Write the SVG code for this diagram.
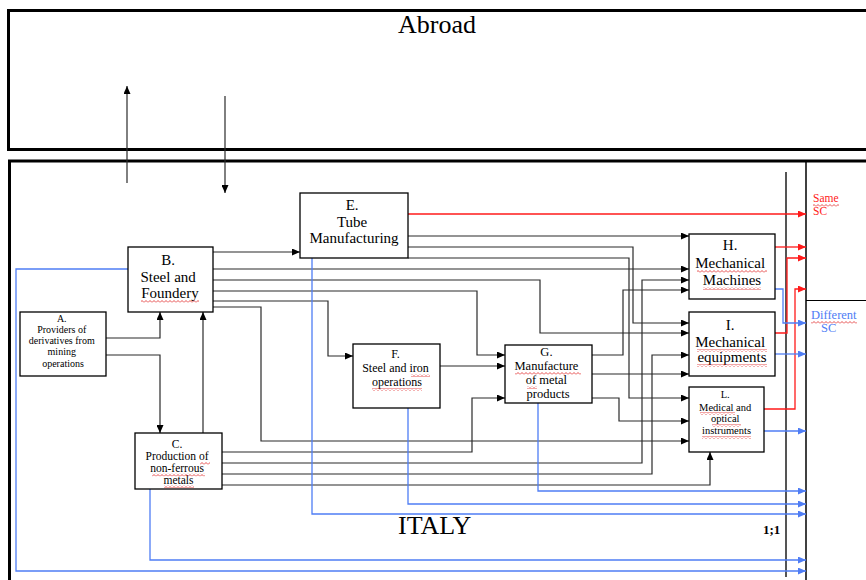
<svg xmlns="http://www.w3.org/2000/svg" width="866" height="580" viewBox="0 0 866 580">
  <style>
    .frame { fill: none; stroke: #000; stroke-width: 3; }
    .box { fill: #fff; stroke: #000; stroke-width: 1.3; }
    .lbl { font-family: "Liberation Serif", "Times New Roman", serif; text-anchor: middle; fill: #000; }
    .serif { font-family: "Liberation Serif", "Times New Roman", serif; }
    .wire { fill: none; stroke: #2a2a2a; stroke-width: 1.2; }
    .wire.arr { marker-end: url(#hk); }
    .red { fill: none; stroke: #ff1a1a; stroke-width: 1.3; marker-end: url(#hr); }
    .blue { fill: none; stroke: #4f7df5; stroke-width: 1.3; marker-end: url(#hb); }
    .sq { fill: url(#squig); }
  </style>
  <defs>
    <marker id="hk" viewBox="0 0 8 7" refX="8" refY="3.5" markerWidth="8" markerHeight="7" markerUnits="userSpaceOnUse" orient="auto">
      <path d="M0,0 L8,3.5 L0,7z" fill="#000"/>
    </marker>
    <marker id="hr" viewBox="0 0 8 7" refX="8" refY="3.5" markerWidth="8" markerHeight="7" markerUnits="userSpaceOnUse" orient="auto">
      <path d="M0,0 L8,3.5 L0,7z" fill="#ff1a1a"/>
    </marker>
    <marker id="hb" viewBox="0 0 8 7" refX="8" refY="3.5" markerWidth="8" markerHeight="7" markerUnits="userSpaceOnUse" orient="auto">
      <path d="M0,0 L8,3.5 L0,7z" fill="#4f7df5"/>
    </marker>
    <pattern id="squig" width="4" height="3" patternUnits="userSpaceOnUse">
      <path d="M0,2.5 L2,0.5 L4,2.5" fill="none" stroke="#e02020" stroke-width="0.8"/>
    </pattern>
    <clipPath id="gclip"><rect x="505" y="345" width="87" height="57"/></clipPath>
  </defs>

  <rect width="866" height="580" fill="#fff"/>

  <!-- regions -->
  <g id="abroad">
    <rect class="frame" x="8.5" y="10.5" width="870" height="139"/>
    <text class="lbl" x="437" y="33" font-size="26">Abroad</text>
  </g>
  <g id="italy">
    <rect class="frame" x="9.5" y="161" width="870" height="430"/>
    <text class="serif" x="398" y="534" font-size="26">ITALY</text>
    <text class="serif" x="763" y="534" font-size="13" font-weight="bold">1;1</text>
    <line x1="786" y1="172" x2="786" y2="577" stroke="#555" stroke-width="2"/>
    <line x1="806" y1="160" x2="806" y2="580" stroke="#000" stroke-width="1.5"/>
    <line x1="806" y1="300.5" x2="866" y2="300.5" stroke="#000" stroke-width="1.2"/>
  </g>
  <g id="same-sc">
    <text class="serif" x="813" y="202" font-size="11.5" fill="#ff1a1a">Same</text>
    <text class="serif" x="813" y="215" font-size="11.5" fill="#ff1a1a">SC</text>
    <rect class="sq" x="813" y="204" width="26" height="3"/>
  </g>
  <g id="different-sc">
    <text class="serif" x="811" y="319" font-size="12.5" fill="#4f7df5">Different</text>
    <text class="serif" x="821" y="332" font-size="12.5" fill="#4f7df5">SC</text>
    <rect class="sq" x="811" y="321" width="46" height="3"/>
  </g>

  <!-- connectors -->
  <g id="connectors">
    <path class="wire arr" d="M127,183 V86"/>
    <path class="wire arr" d="M225,96 V193"/>

    <path class="wire arr" d="M106,338 H160 V312"/>
    <path class="wire arr" d="M106,355 H160 V433"/>
    <path class="wire arr" d="M203,433 V312"/>

    <path class="wire arr" d="M213,252 H300"/>
    <path class="wire arr" d="M213,269 H689"/>
    <path class="wire arr" d="M213,280 H540 V333 H689"/>
    <path class="wire arr" d="M213,291 H477 V355 H505"/>
    <path class="wire arr" d="M213,301 H328 V356 H353"/>
    <path class="wire arr" d="M213,307 H261 V441 H689"/>

    <path class="wire arr" d="M408,236 H689"/>
    <path class="wire arr" d="M408,247 H633 V323 H689"/>
    <path class="wire arr" d="M408,258 H629 V398 H689"/>

    <path class="wire arr" d="M440,366 H505"/>

    <path class="wire arr" d="M592,355 H623 V290 H689"/>
    <path class="wire arr" d="M592,374 H689"/>
    <path class="wire arr" d="M592,398 H619 V421 H689"/>

    <path class="wire arr" d="M222,452 H472 V398 H505"/>
    <path class="wire arr" d="M222,463 H642 V280 H689"/>
    <path class="wire arr" d="M222,474 H652 V355 H689"/>
    <path class="wire arr" d="M222,485 H710 V452"/>

    <path class="red" d="M408,214 H806"/>
    <path class="red" d="M775,247 H806"/>
    <path class="red" d="M775,333 H787 V258 H806"/>
    <path class="red" d="M764,409 H795 V289 H806"/>

    <path class="blue" d="M775,289 H783 V323 H806"/>
    <path class="blue" d="M775,354 H806"/>
    <path class="blue" d="M764,431 H806"/>
    <path class="blue" d="M538,403 V491 H806"/>
    <path class="blue" d="M408,408 V504 H806"/>
    <path class="blue" d="M312,258 V514 H806"/>
    <path class="blue" d="M150,489 V560 H806"/>
    <path class="blue" d="M128,269 H16 V571 H806"/>
  </g>

  <!-- nodes -->
  <g id="node-a">
    <rect class="box" x="20" y="312" width="86" height="64"/>
    <text class="lbl" font-size="10">
      <tspan x="63" y="322">A.</tspan>
      <tspan x="63" y="333">Providers of</tspan>
      <tspan x="63" y="344">derivatives from</tspan>
      <tspan x="63" y="355">mining</tspan>
      <tspan x="63" y="367">operations</tspan>
    </text>
  </g>
  <g id="node-b">
    <rect class="box" x="128" y="247" width="85" height="65"/>
    <text class="lbl" font-size="15">
      <tspan x="170" y="265">B.</tspan>
      <tspan x="170" y="282">Steel and</tspan>
      <tspan x="170" y="298">Foundery</tspan>
    </text>
    <rect class="sq" x="141" y="300" width="58" height="3"/>
  </g>
  <g id="node-c">
    <rect class="box" x="135" y="433" width="87" height="56"/>
    <text class="lbl" font-size="11.5">
      <tspan x="178.5" y="448">C.</tspan>
      <tspan x="178.5" y="460">Production of</tspan>
      <tspan x="178.5" y="471.5">non-ferrous</tspan>
      <tspan x="178.5" y="483.5">metals</tspan>
    </text>
    <rect class="sq" x="200" y="462" width="10" height="3"/>
    <rect class="sq" x="152" y="473.5" width="53" height="3"/>
    <rect class="sq" x="164" y="485" width="30" height="3"/>
  </g>
  <g id="node-e">
    <rect class="box" x="300" y="193" width="108" height="65"/>
    <text class="lbl" font-size="15">
      <tspan x="354" y="210">E.</tspan>
      <tspan x="354" y="226.5">Tube</tspan>
      <tspan x="354" y="243">Manufacturing</tspan>
    </text>
  </g>
  <g id="node-f">
    <rect class="box" x="353" y="344" width="87" height="64"/>
    <text class="lbl" font-size="12">
      <tspan x="397" y="358">F.</tspan>
      <tspan x="397" y="372">Steel and iron</tspan>
      <tspan x="397" y="386">operations</tspan>
    </text>
    <rect class="sq" x="411" y="374" width="19" height="3"/>
    <rect class="sq" x="372" y="388" width="50" height="3"/>
  </g>
  <g id="node-g">
    <rect class="box" x="505" y="345" width="87" height="58"/>
    <text class="lbl" font-size="12.5" clip-path="url(#gclip)">
      <tspan x="548" y="356">G.</tspan>
      <tspan x="548" y="370">Manufacture</tspan>
      <tspan x="548" y="384">of metal</tspan>
      <tspan x="548" y="398">products</tspan>
    </text>
    <rect class="sq" x="515" y="372" width="66" height="3"/>
    <rect class="sq" x="527" y="386" width="10" height="3"/>
  </g>
  <g id="node-h">
    <rect class="box" x="689" y="234" width="86" height="65"/>
    <text class="lbl" font-size="15">
      <tspan x="732" y="250">H.</tspan>
      <tspan x="732" y="268">Mechanical</tspan>
      <tspan x="732" y="285">Machines</tspan>
    </text>
    <rect class="sq" x="697" y="270" width="70" height="3"/>
    <rect class="sq" x="703" y="287" width="58" height="3"/>
  </g>
  <g id="node-i">
    <rect class="box" x="689" y="312" width="86" height="64"/>
    <text class="lbl" font-size="15">
      <tspan x="732" y="330">I.</tspan>
      <tspan x="732" y="347">Mechanical</tspan>
      <tspan x="732" y="362">equipments</tspan>
    </text>
    <rect class="sq" x="697" y="349" width="70" height="3"/>
    <rect class="sq" x="697" y="364" width="70" height="3"/>
  </g>
  <g id="node-l">
    <rect class="box" x="689" y="387" width="75" height="65"/>
    <text class="lbl" font-size="10.5">
      <tspan x="726.5" y="398">L.</tspan>
      <tspan x="726.5" y="410.5">Medical and</tspan>
      <tspan x="726.5" y="422">optical</tspan>
      <tspan x="726.5" y="434">instruments</tspan>
    </text>
    <rect class="sq" x="700" y="412" width="35" height="3"/>
    <rect class="sq" x="712" y="424" width="29" height="3"/>
    <rect class="sq" x="702" y="436" width="49" height="3"/>
  </g>
</svg>
